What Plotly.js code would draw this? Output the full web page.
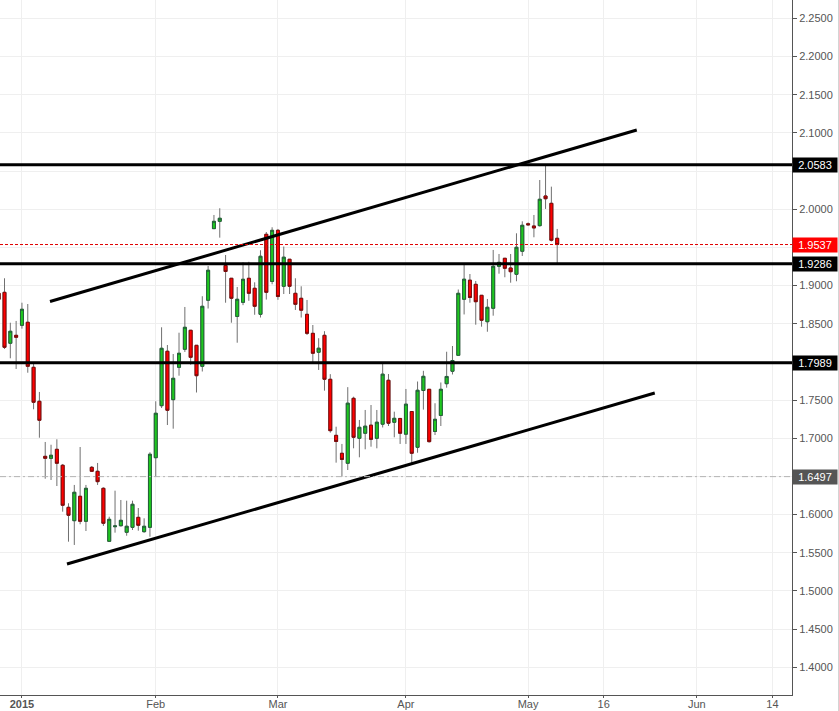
<!DOCTYPE html>
<html><head><meta charset="utf-8">
<script src="https://cdn.plot.ly/plotly-3.0.1.min.js"></script>
<style>html,body{margin:0;padding:0;background:#fff;} #chart{width:839px;height:711px;}</style>
</head><body><div id="chart"></div>
<script>
// bar index of the first candle in the arrays (trading-bar axis)
const firstIndex = -1;
const openP = [1.8898,
1.8911,1.8244,1.8348,1.8479,1.8519,1.7929,1.7484,1.6763,1.6737,1.6855,
1.6646,1.6095,1.5920,1.6240,1.5912,1.6619,1.6567,1.6344,1.5650,1.5841,
1.5854,1.5768,1.5833,1.5964,1.5776,1.5833,1.6745,1.7426,1.8139,1.7505,
1.7929,1.8165,1.8414,1.8217,1.7942,1.8807,1.9745,1.9841,1.9263,1.9095,
1.8595,1.8780,1.9095,1.8964,1.8623,1.9671,1.9053,1.9723,1.8990,1.9344,
1.8898,1.8833,1.8623,1.8374,1.8126,1.8348,1.7772,1.7038,1.6803,1.6672,
1.7523,1.6999,1.7065,1.7171,1.6999,1.7184,1.7759,1.7209,1.7259,1.7053,
1.7350,1.6881,1.7625,1.7641,1.7088,1.7298,1.7714,1.7877,1.8086,1.8820,
1.9070,1.9016,1.8872,1.8526,1.8702,1.9252,1.9357,1.9230,1.9147,1.9449,
1.9809,1.9780,1.9784,2.0173,2.0077,1.9619];
const highP = [1.8960,
1.9095,1.8513,1.8536,1.8775,1.8758,1.7976,1.7606,1.6951,1.6915,1.6986,
1.6663,1.6148,1.6388,1.6885,1.6388,1.6636,1.6676,1.6357,1.5972,1.6313,
1.6191,1.6182,1.6182,1.6086,1.5951,1.6816,1.7484,1.8453,1.8221,1.8103,
1.8382,1.8719,1.8418,1.8217,1.8860,1.9256,1.9924,2.0012,1.9400,1.9095,
1.8981,1.9304,1.9311,1.9042,1.9462,1.9701,1.9763,1.9741,1.9511,1.9344,
1.9095,1.8990,1.8811,1.8483,1.8310,1.8402,1.7839,1.7151,1.6925,1.7669,
1.7544,1.7239,1.7370,1.7435,1.7370,1.7982,1.7841,1.7348,1.7259,1.7645,
1.7350,1.7743,1.7883,1.7641,1.7458,1.7730,1.8133,1.8208,1.8948,1.9273,
1.9151,1.9060,1.8872,1.8824,1.9466,1.9413,1.9357,1.9413,1.9684,1.9841,
1.9826,1.9924,2.0382,2.0570,2.0295,1.9741];
const lowP = [1.8800,
1.8169,1.8047,1.7907,1.8435,1.7858,1.7379,1.7007,1.6470,1.6453,1.6374,
1.6038,1.5645,1.5602,1.5873,1.5785,1.6558,1.6388,1.5851,1.5641,1.5763,
1.5844,1.5723,1.5798,1.5789,1.5763,1.5710,1.6496,1.7396,1.7173,1.7125,
1.7819,1.8130,1.7963,1.7599,1.7874,1.8699,1.9745,1.9627,1.8775,1.8513,
1.8251,1.8743,1.8800,1.8617,1.8581,1.8816,1.9016,1.8813,1.8889,1.8889,
1.8680,1.8581,1.8352,1.7976,1.7894,1.7623,1.7073,1.6680,1.6499,1.6584,
1.6868,1.6750,1.6855,1.6889,1.6868,1.7141,1.7160,1.7012,1.6925,1.6925,
1.6653,1.6810,1.7375,1.6944,1.7042,1.7160,1.7662,1.7835,1.8086,1.8621,
1.8775,1.8487,1.8461,1.8395,1.8605,1.9155,1.9108,1.9037,1.9056,1.9387,
1.9786,1.9632,1.9773,2.0003,1.9577,1.9269];
const closeP = [1.8820,
1.8191,1.8401,1.8322,1.8689,1.7942,1.7471,1.7235,1.6737,1.6777,1.6672,
1.6122,1.5991,1.6292,1.5912,1.6344,1.6567,1.6431,1.5886,1.5938,1.5851,
1.5925,1.5847,1.6135,1.5860,1.5847,1.6790,1.7327,1.8178,1.7366,1.7785,
1.8113,1.8453,1.8060,1.7819,1.8728,1.9200,1.9841,1.9881,1.9184,1.8833,
1.8820,1.9082,1.8898,1.8728,1.9383,1.8911,1.9723,1.8856,1.9371,1.8990,
1.8754,1.8677,1.8374,1.8113,1.8179,1.7772,1.7099,1.6957,1.6722,1.7459,
1.7012,1.7143,1.7158,1.6986,1.7210,1.7839,1.7196,1.7261,1.7065,1.7446,
1.6803,1.7628,1.7811,1.6955,1.7248,1.7641,1.7809,1.8018,1.8898,1.9083,
1.8843,1.8788,1.8545,1.8715,1.9252,1.9304,1.9226,1.9181,1.9501,1.9789,
1.9796,1.9754,2.0130,2.0137,1.9593,1.9537];

const tickIndex = [3, 26, 47, 69, 90, 103, 119, 132];
const tickLabels = ['<b>2015</b>', 'Feb', 'Mar', 'Apr', 'May', '16', 'Jun', '14'];

// price axis ticks; the ones hidden behind price boxes in the reference carry no label
const priceTicks = [1.40, 1.45, 1.50, 1.55, 1.60, 1.65, 1.70, 1.75, 1.80, 1.85, 1.90, 1.95, 2.00, 2.05, 2.10, 2.15, 2.20, 2.25];
const priceTickLabels = ['1.4000', '1.4500', '1.5000', '1.5500', '1.6000', '', '1.7000', '1.7500', '', '1.8500', '1.9000', '', '2.0000', '', '2.1000', '2.1500', '2.2000', '2.2500'];

const keyLevels = [2.0583, 1.9286, 1.7989];
const lastPrice = 1.9537;
const refLevel = 1.6497;

const upperTrendIdx = [7.82, 108.68];
const upperTrendVal = [1.8791, 2.1037];
const lowerTrendIdx = [10.74, 111.77];
const lowerTrendVal = [1.5352, 1.7592];

const xs = openP.map((_, i) => firstIndex + i);
const bodyHigh = openP.map((o, i) => Math.max(o, closeP[i]));
const bodyLow = openP.map((o, i) => Math.min(o, closeP[i]));

const GREEN = '#1ec81e', GREEN_B = '#24603a', RED = '#ff0000', RED_B = '#7d0a0a', WICK = '#707070';
const FONT = 'Liberation Sans, Arial, sans-serif';

const traces = [
  { type: 'candlestick', x: xs, open: openP, high: highP, low: lowP, close: closeP,
    increasing: { line: { color: WICK, width: 1 }, fillcolor: GREEN },
    decreasing: { line: { color: WICK, width: 1 }, fillcolor: RED },
    whiskerwidth: 0, hoverinfo: 'skip', showlegend: false },
  { type: 'candlestick', x: xs, open: openP, high: bodyHigh, low: bodyLow, close: closeP,
    increasing: { line: { color: GREEN_B, width: 1 }, fillcolor: GREEN },
    decreasing: { line: { color: RED_B, width: 1 }, fillcolor: RED },
    whiskerwidth: 0, hoverinfo: 'skip', showlegend: false },
  { type: 'scatter', mode: 'lines', x: upperTrendIdx, y: upperTrendVal,
    line: { color: '#000', width: 3 }, hoverinfo: 'skip', showlegend: false },
  { type: 'scatter', mode: 'lines', x: lowerTrendIdx, y: lowerTrendVal,
    line: { color: '#000', width: 3 }, hoverinfo: 'skip', showlegend: false }
];

const shapes = keyLevels.map(v => ({ type: 'line', xref: 'paper', x0: 0, x1: 1, yref: 'y', y0: v, y1: v,
  line: { color: '#000', width: 3 } }));
shapes.push({ type: 'line', xref: 'paper', x0: 0, x1: 1, yref: 'y', y0: lastPrice, y1: lastPrice,
  line: { color: '#e00000', width: 1, dash: '3px,2px' } });
shapes.push({ type: 'line', xref: 'paper', x0: 0, x1: 1, yref: 'y', y0: refLevel, y1: refLevel,
  line: { color: '#b4b4b4', width: 1, dash: '6px,3px,2px,3px' } });
shapes.push({ type: 'line', xref: 'paper', x0: 1.0587, x1: 1.0587, yref: 'paper', y0: -0.03, y1: 1,
  line: { color: '#d4d4d4', width: 1 } });

function label(v, bg) {
  return { xref: 'paper', x: 1, xanchor: 'left', yref: 'y', y: v, yanchor: 'middle',
    text: v.toFixed(4), showarrow: false, bgcolor: bg, borderpad: 1, width: 42, height: 12,
    align: 'center', font: { family: FONT, size: 11, color: '#fff' } };
}
const annotations = [
  label(keyLevels[0], '#000'),
  label(lastPrice, '#ff0000'),
  label(keyLevels[1], '#000'),
  label(keyLevels[2], '#000'),
  label(refLevel, '#555555')
];

const layout = {
  width: 839, height: 711,
  margin: { l: 0, r: 47, t: 0, b: 16, pad: 0 },
  paper_bgcolor: '#fff', plot_bgcolor: '#fff',
  showlegend: false,
  boxgap: 0.27,
  font: { family: FONT, size: 11, color: '#555' },
  xaxis: {
    type: 'linear', range: [-0.773, 135.36], fixedrange: true,
    rangeslider: { visible: false },
    tickmode: 'array', tickvals: tickIndex, ticktext: tickLabels,
    ticks: 'outside', ticklen: 2, tickcolor: '#555', tickwidth: 1,
    ticklabelstandoff: -3,
    showline: true, linecolor: '#555', linewidth: 1,
    showgrid: true, gridcolor: '#efefef', gridwidth: 1, zeroline: false,
    tickfont: { family: FONT, size: 11, color: '#555' }
  },
  yaxis: {
    side: 'right', range: [1.36369, 2.27397], fixedrange: true,
    tickmode: 'array', tickvals: priceTicks, ticktext: priceTickLabels,
    ticks: 'outside', ticklen: 4, tickcolor: '#555', tickwidth: 1,
    showline: true, linecolor: '#555', linewidth: 1,
    showgrid: true, gridcolor: '#efefef', gridwidth: 1, zeroline: false,
    tickfont: { family: FONT, size: 11, color: '#555' }
  },
  shapes: shapes,
  annotations: annotations
};

Plotly.newPlot('chart', traces, layout, { staticPlot: true, displayModeBar: false });
</script>
</body></html>
